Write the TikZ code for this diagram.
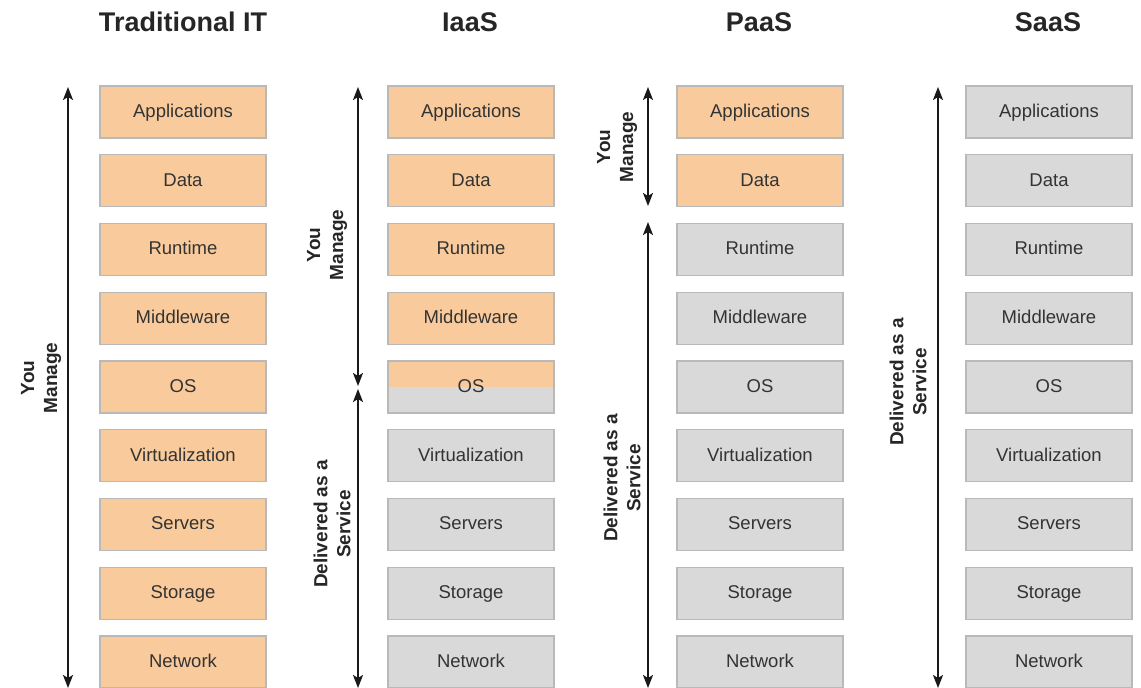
\documentclass[tikz,border=0pt]{standalone}
\usepackage{fontspec}
\setmainfont{Liberation Sans}
\usetikzlibrary{arrows.meta}
\definecolor{peach}{HTML}{F9CB9C}
\definecolor{lgray}{HTML}{D9D9D9}
\definecolor{bordergray}{HTML}{B9B9B9}
\definecolor{txt}{HTML}{333333}
\tikzset{
  layer/.style={draw=bordergray, line width=1.3pt, minimum width=166pt, minimum height=52pt, inner sep=0pt, text height=13.5pt, text depth=3pt, text=txt, font=\fontsize{18.5}{20}\selectfont},
  mine/.style={layer, fill=peach},
  given/.style={layer, fill=lgray},
  splitbox/.style={layer, fill=lgray, path picture={\fill[peach] (path picture bounding box.north west) rectangle (path picture bounding box.east);}},
  title/.style={font=\bfseries\fontsize{27}{30}\selectfont, text=black!85},
  lbl/.style={font=\bfseries\fontsize{19}{23}\selectfont, align=center, rotate=90, text=black!85},
  span/.style={line width=1.8pt, draw=black!90, {Stealth[length=13pt,width=10pt,inset=3pt]}-{Stealth[length=13pt,width=10pt,inset=3pt]}}
}
\begin{document}
\begin{tikzpicture}[x=1pt,y=-1pt]
\useasboundingbox[fill=white] (0,0) rectangle (1141,688);
% titles
\node[title] (t1) at (183,22) {Traditional IT};
\node[title] (t2) at (470,22) {IaaS};
\node[title] (t3) at (759,22) {PaaS};
\node[title] (t4) at (1048,22) {SaaS};
% column 1
\foreach \n/\lab [count=\i from 0] in {a/Applications,b/Data,c/Runtime,d/Middleware,e/OS,f/Virtualization,g/Servers,h/Storage,k/Network}{
  \node[mine] (c1\n) at (183,112+68.75*\i) {\lab};
}
% column 2
\foreach \n/\lab [count=\i from 0] in {a/Applications,b/Data,c/Runtime,d/Middleware}{
  \node[mine] (c2\n) at (471,112+68.75*\i) {\lab};
}
\node[splitbox] (c2e) at (471,387) {OS};
\foreach \n/\lab [count=\i from 5] in {f/Virtualization,g/Servers,h/Storage,k/Network}{
  \node[given] (c2\n) at (471,112+68.75*\i) {\lab};
}
% column 3
\foreach \n/\lab [count=\i from 0] in {a/Applications,b/Data}{
  \node[mine] (c3\n) at (760,112+68.75*\i) {\lab};
}
\foreach \n/\lab [count=\i from 2] in {c/Runtime,d/Middleware,e/OS,f/Virtualization,g/Servers,h/Storage,k/Network}{
  \node[given] (c3\n) at (760,112+68.75*\i) {\lab};
}
% column 4
\foreach \n/\lab [count=\i from 0] in {a/Applications,b/Data,c/Runtime,d/Middleware,e/OS,f/Virtualization,g/Servers,h/Storage,k/Network}{
  \node[given] (c4\n) at (1049,112+68.75*\i) {\lab};
}
% arrow end points
\coordinate (a1t) at (68,87);   \coordinate (a1b) at (68,688);
\coordinate (a2t) at (358,87);  \coordinate (a2m) at (358,386); \coordinate (a2n) at (358,389); \coordinate (a2b) at (358,688);
\coordinate (a3t) at (648,87);  \coordinate (a3m) at (648,206); \coordinate (a3n) at (648,222); \coordinate (a3b) at (648,688);
\coordinate (a4t) at (938,87);  \coordinate (a4b) at (938,688);
\draw[span] (a1t) -- (a1b);
\draw[span] (a2t) -- (a2m);
\draw[span] (a2n) -- (a2b);
\draw[span] (a3t) -- (a3m);
\draw[span] (a3n) -- (a3b);
\draw[span] (a4t) -- (a4b);
% labels
\node[lbl] (l1) at (41,378) {You\\Manage};
\node[lbl] (l2) at (327,245) {You\\Manage};
\node[lbl] (l3) at (332,524) {Delivered as a\\Service};
\node[lbl] (l4) at (617,147) {You\\Manage};
\node[lbl] (l5) at (622,478) {Delivered as a\\Service};
\node[lbl] (l6) at (908,382) {Delivered as a\\Service};
\end{tikzpicture}
\end{document}
